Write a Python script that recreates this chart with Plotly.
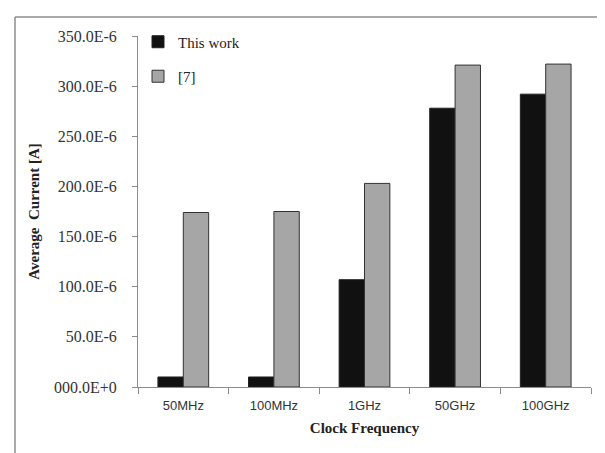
import plotly.graph_objects as go

categories = ["50MHz", "100MHz", "1GHz", "50GHz", "100GHz"]
this_work = [10e-6, 10e-6, 107e-6, 278e-6, 292e-6]
ref7 = [174e-6, 175e-6, 203e-6, 321e-6, 322e-6]
ytick_vals = [0, 50e-6, 100e-6, 150e-6, 200e-6, 250e-6, 300e-6, 350e-6]
ytick_text = ["000.0E+0", "50.0E-6", "100.0E-6", "150.0E-6", "200.0E-6",
              "250.0E-6", "300.0E-6", "350.0E-6"]

serif = "Liberation Serif, Times New Roman, serif"
sans = "Liberation Sans, Arial, sans-serif"

fig = go.Figure()
fig.add_trace(go.Bar(x=categories, y=this_work, name="This work", legendgroup="a",
                     marker=dict(color="#111111", line=dict(color="#222222", width=1))))
fig.add_trace(go.Bar(x=categories, y=ref7, name="[7]", legendgroup="b",
                     marker=dict(color="#a6a6a6", line=dict(color="#333333", width=1))))

fig.update_layout(
    width=605, height=453,
    margin=dict(l=130, r=22, t=28, b=74),
    paper_bgcolor="white", plot_bgcolor="white",
    barmode="group", bargap=0.44, bargroupgap=0,
    showlegend=True,
    legend=dict(x=0.0, y=1.03, xanchor="left", yanchor="top",
                font=dict(family=serif, size=15, color="#222"),
                bgcolor="rgba(0,0,0,0)", itemwidth=30, tracegroupgap=12),
    xaxis=dict(showline=True, linecolor="#8c8c8c", linewidth=1,
               ticks="outside", tickson="boundaries", ticklen=6, tickcolor="#8c8c8c",
               tickfont=dict(family=sans, size=13, color="#333"),
               ticklabelstandoff=6,
               title=dict(text="<b>Clock Frequency</b>", font=dict(family=serif, size=15, color="#222"),
                          standoff=10),
               showgrid=False),
    yaxis=dict(range=[0, 350e-6], showline=True, linecolor="#8c8c8c", linewidth=1,
               ticks="outside", ticklen=5, tickcolor="#8c8c8c",
               tickvals=ytick_vals, ticktext=ytick_text,
               tickfont=dict(family=serif, size=16, color="#333"),
               ticklabelstandoff=12,
               title=dict(text="<b>Average  Current [A]</b>", font=dict(family=serif, size=15, color="#222"),
                          standoff=10),
               showgrid=False, zeroline=False),
    font=dict(family=serif),
)

# outer chart frame (left and top edges)
fig.add_shape(type="line", xref="paper", yref="paper",
              x0=-0.2715, x1=-0.2715, y0=-0.3, y1=1.054,
              line=dict(color="#8c8c8c", width=1.5))
fig.add_shape(type="line", xref="paper", yref="paper",
              x0=-0.2715, x1=1.1, y0=1.054, y1=1.054,
              line=dict(color="#8c8c8c", width=1.5))

fig.write_html("out.html")
